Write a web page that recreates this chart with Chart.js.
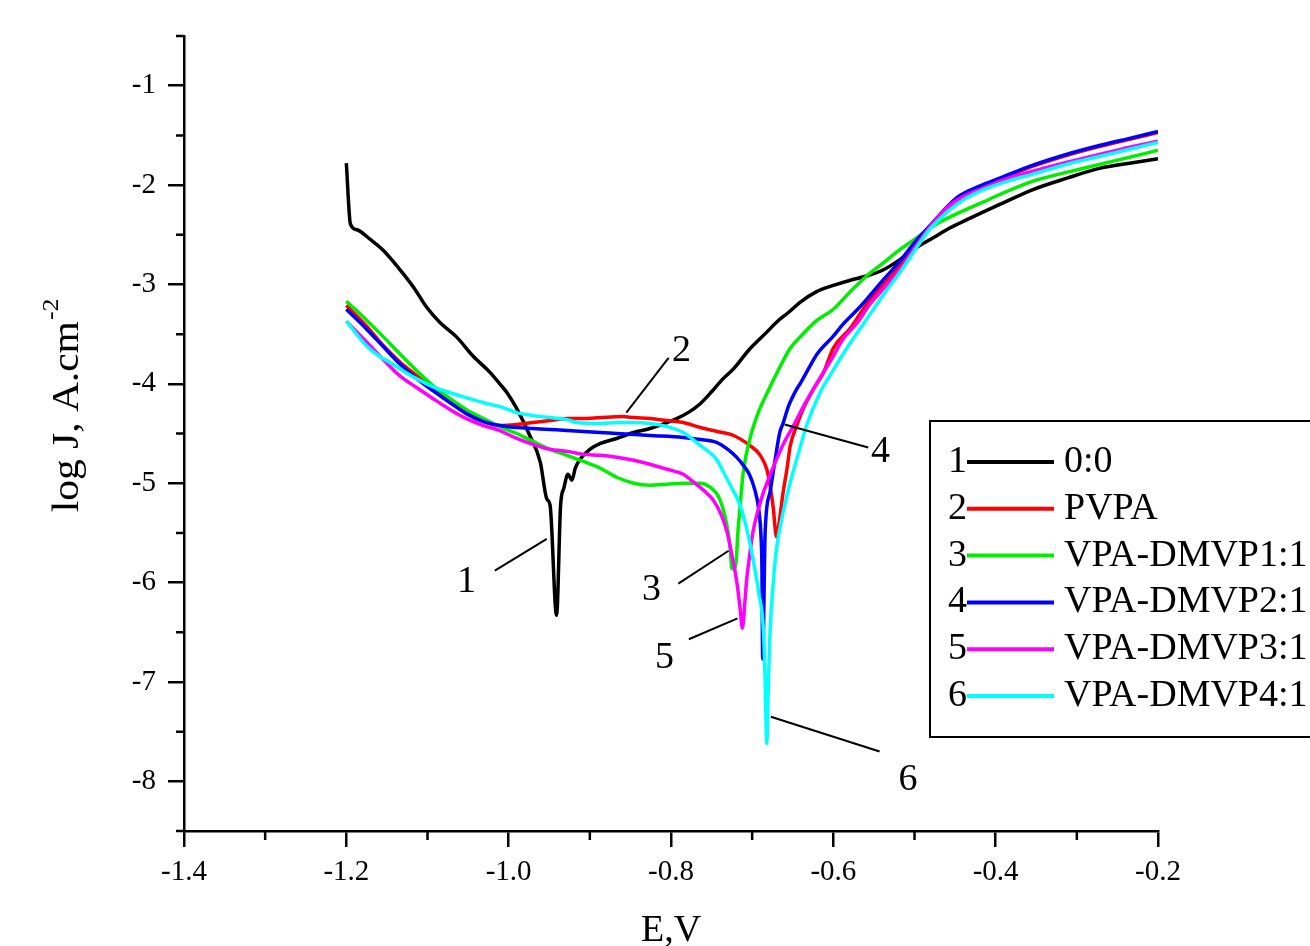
<!DOCTYPE html>
<html>
<head>
<meta charset="utf-8">
<title>Polarization curves</title>
<script src="https://cdn.jsdelivr.net/npm/chart.js@4.4.1/dist/chart.umd.min.js"></script>
<style>
    html, body { margin: 0; padding: 0; background: #fff; }
    #wrap { width: 1310px; height: 946px; }
</style>
</head>
<body>
<div id="wrap"><canvas id="tafelChart" width="1310" height="946"></canvas></div>
<script>
/* ---------- data (E in V, log J) ---------- */
const seriesNames = ['0:0', 'PVPA', 'VPA-DMVP1:1', 'VPA-DMVP2:1', 'VPA-DMVP3:1', 'VPA-DMVP4:1'];
const seriesColors = ['#000000', '#ff0000', '#00ee00', '#0000ff', '#ff00ff', '#00ffff'];

const e1 = [-1.200, -1.195, -1.187, -1.170, -1.154, -1.134, -1.117, -1.101, -1.085, -1.064, -1.044, -1.023, -1.011, -1.002, -0.990, -0.974, -0.961, -0.953, -0.949, -0.941, -0.936, -0.932, -0.927, -0.922, -0.918, -0.912, -0.900, -0.887, -0.867, -0.846, -0.826, -0.805, -0.793, -0.779, -0.764, -0.750, -0.736, -0.723, -0.703, -0.682, -0.670, -0.655, -0.641, -0.620, -0.600, -0.580, -0.559, -0.540, -0.518, -0.500, -0.477, -0.456, -0.436, -0.415, -0.395, -0.354, -0.312, -0.271, -0.235, -0.200];
const j1 = [-1.78, -2.39, -2.45, -2.55, -2.66, -2.85, -3.03, -3.23, -3.38, -3.53, -3.72, -3.885, -4.00, -4.09, -4.25, -4.52, -4.79, -5.16, -5.22, -6.33, -5.22, -5.05, -4.91, -4.97, -4.85, -4.76, -4.66, -4.60, -4.55, -4.49, -4.45, -4.39, -4.35, -4.29, -4.20, -4.08, -3.95, -3.85, -3.65, -3.48, -3.38, -3.28, -3.18, -3.07, -3.01, -2.96, -2.915, -2.86, -2.75, -2.64, -2.53, -2.43, -2.35, -2.27, -2.195, -2.045, -1.93, -1.83, -1.78, -1.735];

const e2 = [-1.200, -1.175, -1.154, -1.134, -1.113, -1.093, -1.072, -1.052, -1.031, -1.011, -0.990, -0.970, -0.949, -0.928, -0.908, -0.887, -0.859, -0.846, -0.826, -0.805, -0.785, -0.764, -0.743, -0.723, -0.703, -0.690, -0.682, -0.678, -0.674, -0.670, -0.666, -0.662, -0.657, -0.653, -0.645, -0.637, -0.625, -0.612, -0.600, -0.579, -0.559, -0.538, -0.518, -0.500, -0.481, -0.470, -0.456, -0.436, -0.415, -0.385, -0.354, -0.312, -0.271, -0.235, -0.200];
const j2 = [-3.21, -3.42, -3.62, -3.78, -3.92, -4.06, -4.19, -4.30, -4.38, -4.42, -4.41, -4.39, -4.37, -4.35, -4.35, -4.34, -4.33, -4.34, -4.35, -4.37, -4.39, -4.44, -4.48, -4.52, -4.62, -4.72, -4.86, -5.02, -5.25, -5.54, -5.35, -5.10, -4.85, -4.62, -4.42, -4.25, -4.06, -3.885, -3.64, -3.44, -3.20, -3.00, -2.815, -2.63, -2.43, -2.33, -2.21, -2.10, -2.01, -1.91, -1.81, -1.70, -1.61, -1.54, -1.47];

const e3 = [-1.200, -1.175, -1.154, -1.134, -1.113, -1.093, -1.072, -1.052, -1.031, -1.011, -0.990, -0.970, -0.949, -0.928, -0.908, -0.887, -0.867, -0.846, -0.826, -0.805, -0.785, -0.764, -0.752, -0.740, -0.731, -0.727, -0.725, -0.721, -0.717, -0.714, -0.711, -0.703, -0.693, -0.682, -0.667, -0.653, -0.641, -0.620, -0.600, -0.580, -0.559, -0.538, -0.518, -0.497, -0.481, -0.456, -0.436, -0.415, -0.395, -0.354, -0.312, -0.271, -0.235, -0.200];
const j3 = [-3.17, -3.36, -3.53, -3.70, -3.87, -4.02, -4.15, -4.26, -4.35, -4.43, -4.50, -4.58, -4.66, -4.72, -4.78, -4.85, -4.94, -5.00, -5.02, -5.01, -5.00, -5.00, -5.04, -5.16, -5.43, -5.66, -5.86, -5.86, -5.43, -5.15, -4.89, -4.56, -4.30, -4.10, -3.85, -3.64, -3.53, -3.36, -3.25, -3.08, -2.915, -2.78, -2.65, -2.53, -2.43, -2.32, -2.245, -2.17, -2.095, -1.96, -1.87, -1.79, -1.72, -1.65];

const e4 = [-1.200, -1.175, -1.154, -1.134, -1.113, -1.093, -1.072, -1.052, -1.031, -1.011, -0.990, -0.970, -0.949, -0.928, -0.908, -0.887, -0.867, -0.826, -0.785, -0.764, -0.744, -0.730, -0.719, -0.710, -0.703, -0.697, -0.692, -0.689, -0.688, -0.687, -0.684, -0.678, -0.672, -0.666, -0.662, -0.655, -0.645, -0.641, -0.630, -0.620, -0.600, -0.588, -0.570, -0.559, -0.538, -0.518, -0.497, -0.481, -0.460, -0.445, -0.420, -0.395, -0.354, -0.312, -0.271, -0.235, -0.200];
const j4 = [-3.25, -3.45, -3.63, -3.80, -3.95, -4.07, -4.19, -4.30, -4.38, -4.42, -4.44, -4.45, -4.46, -4.47, -4.48, -4.49, -4.50, -4.52, -4.54, -4.56, -4.59, -4.66, -4.74, -4.83, -4.92, -5.06, -5.26, -5.55, -5.83, -6.77, -5.49, -5.09, -4.78, -4.49, -4.40, -4.22, -4.05, -4.00, -3.84, -3.70, -3.52, -3.40, -3.25, -3.15, -2.95, -2.765, -2.55, -2.41, -2.22, -2.11, -2.01, -1.93, -1.80, -1.69, -1.60, -1.53, -1.46];

const e5 = [-1.200, -1.175, -1.154, -1.134, -1.113, -1.093, -1.072, -1.052, -1.031, -1.011, -0.990, -0.970, -0.949, -0.928, -0.908, -0.887, -0.867, -0.846, -0.826, -0.805, -0.785, -0.772, -0.760, -0.748, -0.738, -0.731, -0.725, -0.719, -0.715, -0.712, -0.709, -0.707, -0.703, -0.699, -0.693, -0.686, -0.678, -0.670, -0.660, -0.649, -0.635, -0.620, -0.600, -0.588, -0.570, -0.555, -0.538, -0.518, -0.497, -0.481, -0.456, -0.436, -0.415, -0.395, -0.354, -0.312, -0.271, -0.235, -0.200];
const j5 = [-3.37, -3.58, -3.76, -3.92, -4.04, -4.15, -4.26, -4.35, -4.42, -4.47, -4.55, -4.61, -4.66, -4.68, -4.71, -4.72, -4.74, -4.77, -4.81, -4.86, -4.91, -4.99, -5.07, -5.17, -5.32, -5.49, -5.72, -5.99, -6.25, -6.46, -6.20, -5.99, -5.72, -5.49, -5.28, -5.09, -4.92, -4.76, -4.58, -4.42, -4.20, -3.99, -3.72, -3.55, -3.38, -3.20, -3.04, -2.85, -2.60, -2.42, -2.20, -2.10, -2.03, -1.96, -1.86, -1.77, -1.69, -1.62, -1.56];

const e6 = [-1.200, -1.175, -1.160, -1.146, -1.130, -1.113, -1.093, -1.072, -1.052, -1.031, -1.011, -0.990, -0.970, -0.949, -0.928, -0.916, -0.887, -0.867, -0.846, -0.826, -0.805, -0.785, -0.764, -0.744, -0.736, -0.725, -0.715, -0.707, -0.699, -0.692, -0.686, -0.684, -0.682, -0.680, -0.678, -0.674, -0.670, -0.662, -0.653, -0.643, -0.633, -0.617, -0.600, -0.580, -0.559, -0.538, -0.518, -0.500, -0.481, -0.470, -0.456, -0.436, -0.415, -0.385, -0.354, -0.312, -0.271, -0.235, -0.200];
const j6 = [-3.37, -3.62, -3.72, -3.785, -3.87, -3.95, -4.03, -4.09, -4.14, -4.19, -4.23, -4.29, -4.32, -4.34, -4.36, -4.39, -4.40, -4.39, -4.39, -4.40, -4.43, -4.49, -4.62, -4.76, -4.88, -5.05, -5.22, -5.45, -5.76, -6.10, -6.50, -7.00, -7.62, -7.00, -6.50, -6.00, -5.66, -5.30, -4.99, -4.70, -4.42, -4.10, -3.86, -3.60, -3.35, -3.10, -2.88, -2.66, -2.44, -2.35, -2.245, -2.13, -2.045, -1.96, -1.89, -1.79, -1.71, -1.64, -1.57];

const seriesE = [e1, e2, e3, e4, e5, e6];
const seriesJ = [j1, j2, j3, j4, j5, j6];

// axis ticks
const xTicks = [-1.4, -1.2, -1.0, -0.8, -0.6, -0.4, -0.2];
const xMinorTicks = [-1.3, -1.1, -0.9, -0.7, -0.5, -0.3];
const yTicks = [-8, -7, -6, -5, -4, -3, -2, -1];
const yMinorTicks = [-8.5, -7.5, -6.5, -5.5, -4.5, -3.5, -2.5, -1.5, -0.5];

// curve labels with leader lines (positions in data units)
const curveNotes = [
    { text: '1', from: [-1.017, -5.88], to: [-0.953, -5.56], at: [-1.052, -5.99] },
    { text: '2', from: [-0.855, -4.29], to: [-0.803, -3.74], at: [-0.787, -3.67] },
    { text: '3', from: [-0.791, -6.01], to: [-0.729, -5.68], at: [-0.824, -6.08] },
    { text: '4', from: [-0.660, -4.41], to: [-0.557, -4.64], at: [-0.542, -4.69] },
    { text: '5', from: [-0.778, -6.57], to: [-0.718, -6.36], at: [-0.808, -6.76] },
    { text: '6', from: [-0.677, -7.35], to: [-0.543, -7.70], at: [-0.508, -7.99] }
];

const FONT = '"Liberation Serif", "Times New Roman", serif';

/* ---------- extra drawing: minor ticks, notes, legend, axis titles ---------- */
const decorPlugin = {
    id: 'decor',
    afterDraw(chart) {
        const ctx = chart.ctx;
        const xs = chart.scales.x;
        const ys = chart.scales.y;
        const area = chart.chartArea;
        ctx.save();
        ctx.strokeStyle = '#000';
        ctx.lineCap = 'butt';

        // minor ticks
        ctx.lineWidth = 2.5;
        ctx.beginPath();
        xMinorTicks.forEach(v => {
            const px = xs.getPixelForValue(v);
            ctx.moveTo(px, area.bottom);
            ctx.lineTo(px, area.bottom + 9);
        });
        yMinorTicks.forEach(v => {
            const py = ys.getPixelForValue(v);
            ctx.moveTo(area.left - 8, py);
            ctx.lineTo(area.left, py);
        });
        ctx.stroke();

        // leader lines + numbers
        ctx.lineWidth = 2;
        ctx.fillStyle = '#000';
        ctx.font = '38px ' + FONT;
        ctx.textAlign = 'center';
        ctx.textBaseline = 'middle';
        curveNotes.forEach(n => {
            ctx.beginPath();
            ctx.moveTo(xs.getPixelForValue(n.from[0]), ys.getPixelForValue(n.from[1]));
            ctx.lineTo(xs.getPixelForValue(n.to[0]), ys.getPixelForValue(n.to[1]));
            ctx.stroke();
            ctx.fillText(n.text, xs.getPixelForValue(n.at[0]), ys.getPixelForValue(n.at[1]));
        });

        // legend box
        const lx = 930, ly = 421, lh = 316;
        ctx.lineWidth = 2;
        ctx.strokeRect(lx, ly, 420, lh);
        chart.data.datasets.forEach((ds, i) => {
            const cy = 462 + i * 46.8;
            ctx.font = '38px ' + FONT;
            ctx.textAlign = 'right';
            ctx.fillStyle = '#000';
            ctx.fillText(String(i + 1), 967, cy);
            ctx.strokeStyle = ds.borderColor;
            ctx.lineWidth = 4;
            ctx.beginPath();
            ctx.moveTo(967, cy);
            ctx.lineTo(1054, cy);
            ctx.stroke();
            ctx.textAlign = 'left';
            ctx.fillText(ds.label, 1064, cy);
        });

        // x title
        ctx.fillStyle = '#000';
        ctx.font = '38px ' + FONT;
        ctx.textAlign = 'center';
        ctx.fillText('E,V', (area.left + area.right) / 2, 931);

        // y title with superscript, rotated and a little stretched along its length
        const main = 'log J, A.cm';
        const sup = '-2';
        ctx.font = '37px ' + FONT;
        const wMain = ctx.measureText(main).width;
        ctx.font = '23px ' + FONT;
        const wSup = ctx.measureText(sup).width;
        ctx.translate(68, 406);
        ctx.rotate(-Math.PI / 2);
        ctx.scale(1.12, 1);
        const start = -(wMain + wSup) / 2;
        ctx.textAlign = 'left';
        ctx.font = '37px ' + FONT;
        ctx.fillText(main, start, 0);
        ctx.font = '23px ' + FONT;
        ctx.fillText(sup, start + wMain + 1, -16);
        ctx.restore();
    }
};

const datasets = seriesNames.map((name, i) => ({
    label: name,
    data: seriesE[i].map((e, k) => ({ x: e, y: seriesJ[i][k] })),
    borderColor: seriesColors[i],
    backgroundColor: seriesColors[i],
    borderWidth: 3.5,
    pointRadius: 0,
    fill: false,
    cubicInterpolationMode: 'monotone',
    order: seriesNames.length - i
}));

const axisStyle = {
    grid: { drawOnChartArea: false, drawTicks: true, tickLength: 16, color: '#000', lineWidth: 2.5 },
    border: { display: true, color: '#000', width: 2.5 }
};

new Chart(document.getElementById('tafelChart'), {
    type: 'line',
    data: { datasets },
    options: {
        responsive: false,
        animation: false,
        devicePixelRatio: 1,
        layout: { padding: { top: 36, right: 152, bottom: 0, left: 0 } },
        plugins: { legend: { display: false }, tooltip: { enabled: false } },
        scales: {
            x: {
                type: 'linear',
                min: -1.4,
                max: -0.2,
                ...axisStyle,
                afterBuildTicks: s => { s.ticks = xTicks.map(v => ({ value: v })); },
                afterFit: s => { s.height = 115; },
                ticks: {
                    color: '#000',
                    padding: 8,
                    maxRotation: 0,
                    font: { family: FONT, size: 29 },
                    callback: v => Number(v).toFixed(1)
                }
            },
            y: {
                type: 'linear',
                min: -8.5,
                max: -0.5,
                ...axisStyle,
                afterBuildTicks: s => { s.ticks = yTicks.map(v => ({ value: v })); },
                afterFit: s => { s.width = 184; },
                ticks: {
                    color: '#000',
                    padding: 12,
                    font: { family: FONT, size: 29 },
                    callback: v => String(v)
                }
            }
        }
    },
    plugins: [decorPlugin]
});
</script>
</body>
</html>
